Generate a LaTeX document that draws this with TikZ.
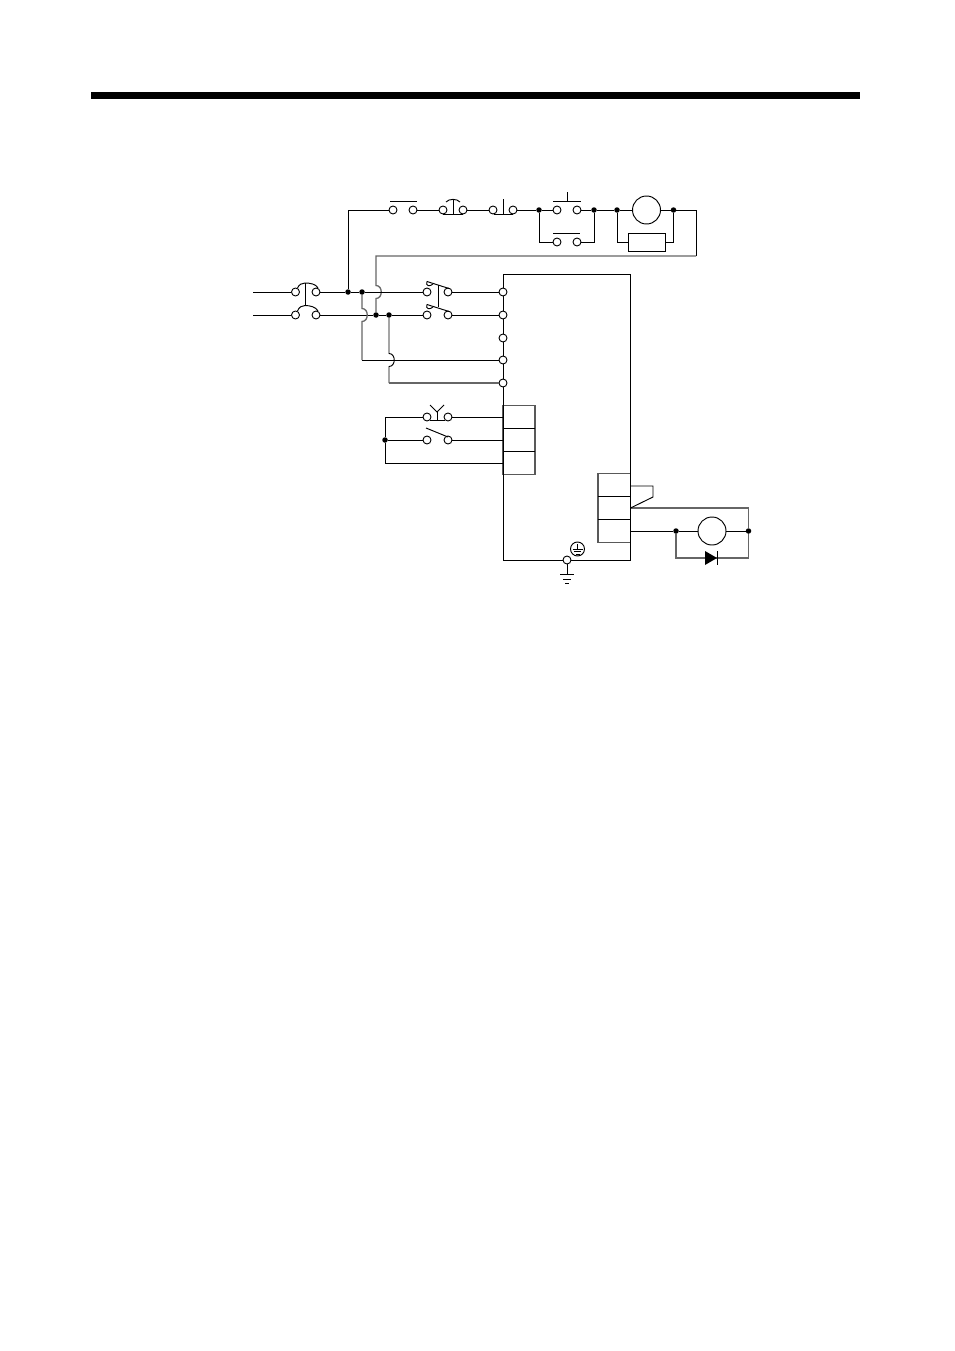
\documentclass[tikz,border=0pt]{standalone}
\tikzset{
  term/.style={circle, draw, fill=white, inner sep=0pt, minimum size=8pt, line width=0.9pt},
  dot/.style={circle, fill=black, inner sep=0pt, minimum size=5.5pt},
  wire/.style={draw, line width=0.95pt},
  greywire/.style={draw=black!60, line width=1.3pt},
  boxpart/.style={rectangle, draw=black!65, line width=1.2pt, inner sep=0pt},
  coil/.style={circle, draw, inner sep=0pt, minimum size=28pt, line width=0.95pt},
  blade/.style={draw, line width=0.95pt}
}
\begin{document}
\begin{tikzpicture}[x=1pt, y=-1pt]
  \useasboundingbox (0,0) rectangle (954,1351);

  % Barra in alto
  \node[rectangle, fill=black, inner sep=0pt, minimum width=769pt, minimum height=7pt] (bar) at (475.5,95.5) {};

  % Riquadri
  \node[rectangle, draw, line width=0.95pt, inner sep=0pt, minimum width=127.5pt, minimum height=286pt] (unit) at (566.75,417) {};
  \node[boxpart, minimum width=32pt, minimum height=22.5pt] (in1) at (519,417) {};
  \node[boxpart, minimum width=32pt, minimum height=23pt] (in2) at (519,440) {};
  \node[boxpart, minimum width=32pt, minimum height=22.5pt] (in3) at (519,463) {};
  \node[boxpart, minimum width=32.5pt, minimum height=22.5pt] (out1) at (614.25,485) {};
  \node[boxpart, minimum width=32.5pt, minimum height=23pt] (out2) at (614.25,508) {};
  \node[boxpart, minimum width=32.5pt, minimum height=22.5pt] (out3) at (614.25,531) {};
  \draw[wire] (503,274) -- (503,560);
  \draw[wire] (630.5,274) -- (630.5,560);
  \draw[wire] (598,496.5) -- (630.5,496.5);
  \draw[wire] (598,519.5) -- (630.5,519.5);
  \draw[wire] (503,428.5) -- (535,428.5);
  \draw[wire] (503,451.5) -- (535,451.5);
  \node[rectangle, draw, line width=0.95pt, inner sep=0pt, minimum width=37pt, minimum height=18pt] (res) at (646.5,242) {};

  % Bobine
  \node[coil] (coilA) at (646.5,210) {};
  \node[coil] (coilB) at (712,531) {};

  % Morsetti
  \node[term] (a1) at (393,210) {};
  \node[term] (a2) at (413,210) {};
  \node[term] (b1) at (443,210) {};
  \node[term] (b2) at (463,210) {};
  \node[term] (c1) at (493,210) {};
  \node[term] (c2) at (513,210) {};
  \node[term] (d1) at (557,210) {};
  \node[term] (d2) at (577,210) {};
  \node[term] (e1) at (557,242) {};
  \node[term] (e2) at (577,242) {};
  \node[term] (nfa1) at (295.5,292) {};
  \node[term] (nfa2) at (316,292) {};
  \node[term] (nfb1) at (295.5,315) {};
  \node[term] (nfb2) at (316,315) {};
  \node[term] (mca1) at (427,292) {};
  \node[term] (mca2) at (448,292) {};
  \node[term] (mcb1) at (427,315) {};
  \node[term] (mcb2) at (448,315) {};
  \node[term] (t1) at (503,292) {};
  \node[term] (t2) at (503,315) {};
  \node[term] (t3) at (503,338) {};
  \node[term] (t4) at (503,360) {};
  \node[term] (t5) at (503,383) {};
  \node[term] (f1) at (427,417) {};
  \node[term] (f2) at (448,417) {};
  \node[term] (g1) at (427,440) {};
  \node[term] (g2) at (448,440) {};
  \node[term] (pe) at (567,560) {};

  % Giunzioni
  \node[dot] (j1) at (348,292) {};
  \node[dot] (j2) at (362,292) {};
  \node[dot] (j3) at (376,315) {};
  \node[dot] (j4) at (389,315) {};
  \node[dot] (j5) at (539,210) {};
  \node[dot] (j6) at (594,210) {};
  \node[dot] (j7) at (617,210) {};
  \node[dot] (j8) at (673.5,210) {};
  \node[dot] (j9) at (385,440) {};
  \node[dot] (j10) at (676,531) {};
  \node[dot] (j11) at (748.5,531) {};

  % Punti liberi
  \coordinate (la) at (253,292);
  \coordinate (lb) at (253,315);
  \coordinate (back1) at (696,256);
  \coordinate (back2) at (376,256);
  \coordinate (top) at (696,210);
  \coordinate (loop1) at (676,558);
  \coordinate (loop2) at (748.5,558);
  \coordinate (ret) at (630.5,508);
  \coordinate (retc) at (748.5,508);
  \coordinate (gnd) at (567,574);
  \coordinate (o3r) at (630.5,531);

  % Collegamenti in alto
  \draw[wire] (j1) |- (a1);
  \draw[wire] (a2) -- (b1);
  \draw[wire] (b2) -- (c1);
  \draw[wire] (c2) -- (j5);
  \draw[wire] (j5) -- (d1);
  \draw[wire] (j5) |- (e1);
  \draw[wire] (d2) -- (j6);
  \draw[wire] (e2) -| (j6);
  \draw[wire] (j6) -- (j7);
  \draw[wire] (j7) -- (coilA);
  \draw[wire] (coilA) -- (j8);
  \draw[wire] (j7) |- (res);
  \draw[wire] (res) -| (j8);
  \draw[wire] (j8) -- (top) -- (back1);
  \draw[greywire] (back1) -- (back2) -- (376,285.5)
    .. controls +(7,0) and +(7,0) .. (376,298.5) -- (j3);

  % Alimentazione
  \draw[wire] (la) -- (nfa1);
  \draw[wire] (lb) -- (nfb1);
  \draw[wire] (nfa2) -- (j1);
  \draw[wire] (j1) -- (j2);
  \draw[wire] (j2) -- (mca1);
  \draw[wire] (nfb2) -- (j3);
  \draw[wire] (j3) -- (j4);
  \draw[wire] (j4) -- (mcb1);
  \draw[wire] (mca2) -- (t1);
  \draw[wire] (mcb2) -- (t2);

  % Ponticelli
  \draw[greywire] (j2) -- (362,308.5)
    .. controls +(7,0) and +(7,0) .. (362,321.5) -- (362,360);
  \draw[wire] (362,360) -- (t4);
  \draw[wire] (j4) -- (389,353.5)
    .. controls +(7,0) and +(7,0) .. (389,366.5) -- (389,383);
  \draw[greywire] (389,383) -- (t5);

  % Ingressi
  \draw[wire] (f2) -- (503,417);
  \draw[wire] (g2) -- (503,440);
  \draw[wire] (f1) -| (j9);
  \draw[wire] (j9) -- (g1);
  \draw[wire] (j9) |- (503,463);

  % Uscite
  \draw[wire] (o3r) -- (j10);
  \draw[wire] (j10) -- (coilB);
  \draw[wire] (coilB) -- (j11);
  \draw[greywire] (j10) -- (loop1) -- (loop2) -- (j11);
  \draw[greywire] (ret) -- (retc) -- (j11);
  \draw[wire] (630.5,486) -- (653,486) -- (653,497) -- (ret);

  % Diodo
  \fill (705,551) -- (717,558) -- (705,565) -- cycle;
  \draw[wire] (717,551) -- (717,565);

  % Contatti
  \draw[blade] (390,201) -- (417,201);
  \draw[blade] (443,214) -- (463,214);
  \draw[blade] (453,214) -- (453,199);
  \draw[blade] (446,202) .. controls (449,198.5) and (457,198.5) .. (460,202);
  \draw[blade] (494,214) -- (513,214);
  \draw[blade] (503,214) -- (503,199);
  \draw[blade] (553,201) -- (581,201);
  \draw[blade] (567,201) -- (567,192);
  \draw[blade] (553,233) -- (580,233);

  % Interruttore
  \draw[blade] (297.5,288) .. controls (299,284.5) and (302,283) .. (305,283)
    .. controls (310,283) and (316,284) .. (318,288);
  \draw[blade] (297.5,311) .. controls (299,307) and (302,305.5) .. (305,305.5)
    .. controls (310,305.5) and (316,307) .. (318,311);
  \draw[blade] (305,283) -- (305,305.5);

  % Teleruttore
  \draw[blade] (427,281.5) -- (449,288.5);
  \draw[blade] (427,281.5) .. controls (425,286) and (430,287) .. (433,284);
  \draw[blade] (427,304.5) -- (449,311.5);
  \draw[blade] (427,304.5) .. controls (425,309) and (430,310) .. (433,307);
  \draw[blade] (438,285) -- (438,307);

  % Pulsanti
  \draw[blade] (430,420) -- (445,420);
  \draw[blade] (437,420) -- (437,412);
  \draw[blade] (430,405) -- (437,412) -- (444,405);
  \draw[blade] (426,428) -- (448,437);

  % Terra
  \draw[wire] (pe) -- (gnd);
  \draw[wire] (560,574) -- (574,574);
  \draw[wire] (563,579) -- (571,579);
  \draw[wire] (565,583.5) -- (569,583.5);
  \node[circle, draw, inner sep=0pt, minimum size=14pt, line width=0.95pt] (pesym) at (577.5,549) {};
  \draw[blade] (577.5,544) -- (577.5,549);
  \draw[blade] (572.5,549) -- (582.5,549);
  \draw[blade] (574,551.5) -- (581,551.5);
  \draw[blade] (575.5,554) -- (579.5,554);
\end{tikzpicture}
\end{document}
